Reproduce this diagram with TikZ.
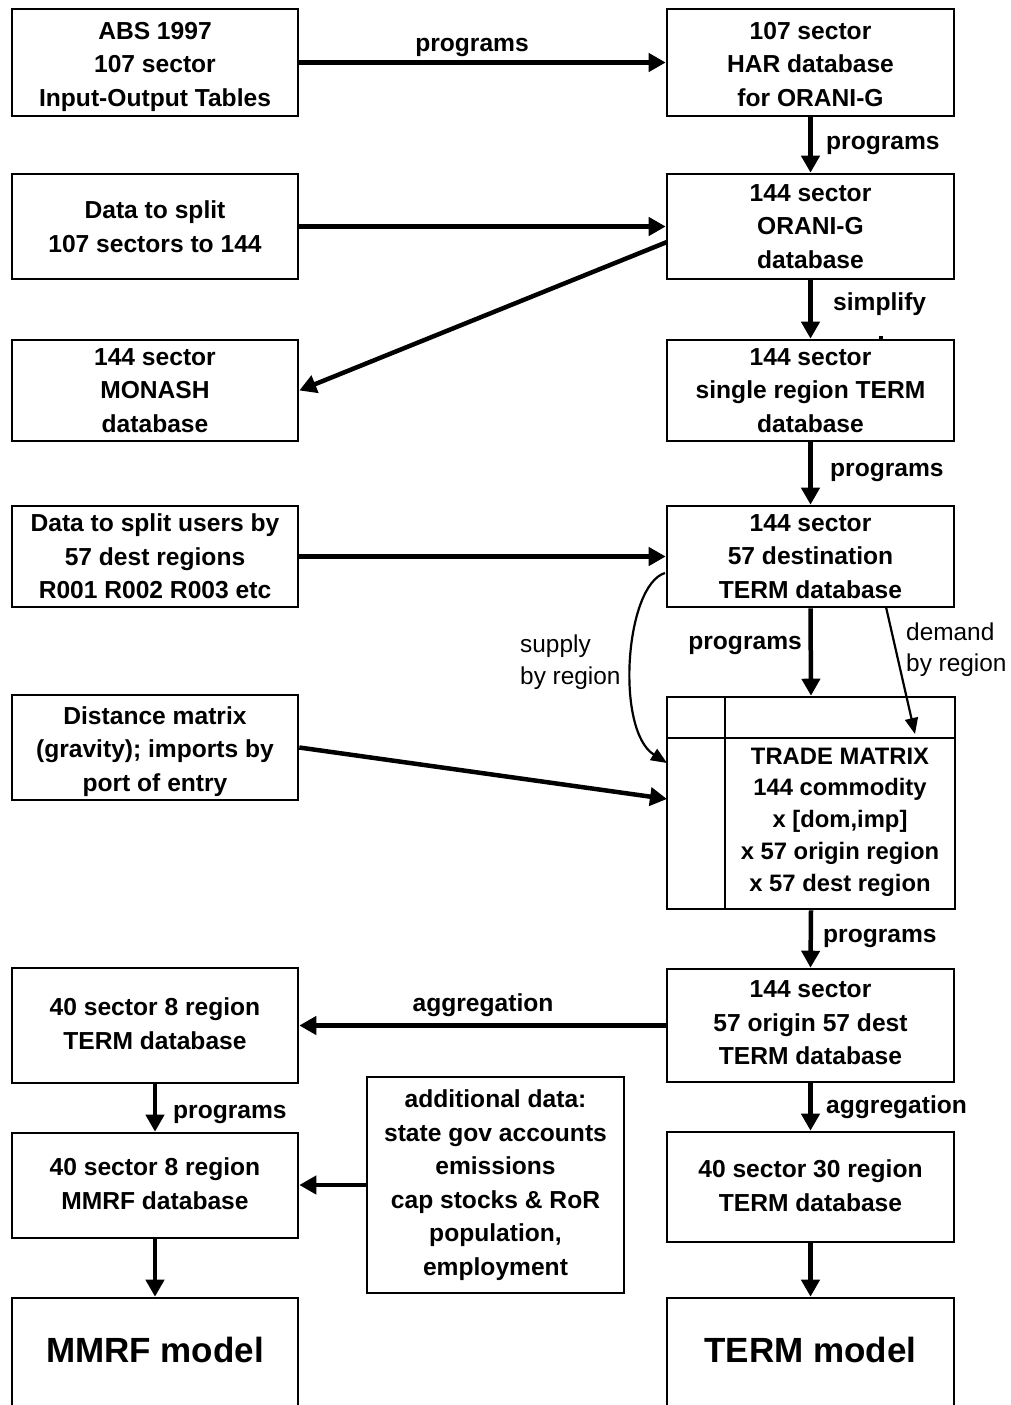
\documentclass[tikz,border=0pt]{standalone}
\usepackage{fontspec}
\setmainfont{Liberation Sans}
\usetikzlibrary{arrows.meta}
\newcommand{\myup}[1]{\rule{0pt}{#1}}
\newcommand{\mydn}[1]{\rule[-#1]{0pt}{#1}}
\begin{document}
\begin{tikzpicture}[x=1pt,y=-1pt,
 box/.style={draw, line width=2.6pt, align=center, inner sep=0pt, font=\bfseries\fontsize{24.6}{33.5}\selectfont, minimum width=286pt},
 flow/.style={line width=4.5pt, -{Triangle[length=17pt,width=18pt]}},
 thinarrow/.style={line width=2.2pt, -{Triangle[length=16pt,width=13pt]}},
 lab/.style={font=\bfseries\fontsize{24.6}{28}\selectfont, inner sep=0pt},
 nlab/.style={font=\fontsize{24.4}{31.5}\selectfont, align=left, inner sep=0pt}]
\useasboundingbox (0,0) rectangle (1010,1405);
\clip (0,0) rectangle (1010,1405);
\fill[white] (0,0) rectangle (1010,1405);

% left column
\node[box, minimum height=107pt] (L1) at (155,62.5) {\myup{25.5pt}ABS 1997\\107 sector\\Input-Output Tables};
\node[box, minimum height=105pt] (L2) at (155,226.5) {Data to split\\107 sectors to 144};
\node[box, minimum height=101pt] (L3) at (155,390.5) {144 sector\\MONASH\\database};
\node[box, minimum height=101pt] (L4) at (155,556.5) {Data to split users by\\57 dest regions\\R001 R002 R003 etc};
\node[box, minimum height=105pt] (L5) at (155,747.5) {\myup{25.5pt}Distance matrix\\(gravity); imports by\\port of entry};
\node[box, minimum height=115pt] (L6) at (155,1025.5) {40 sector 8 region\\TERM database\mydn{4pt}};
\node[box, minimum height=105pt] (L7) at (155,1185.5) {40 sector 8 region\\MMRF database\mydn{4pt}};
\node[box, minimum height=160pt] (L8) at (155,1378) {};
\node[font=\bfseries\fontsize{35}{40}\selectfont, inner sep=0pt] (L8t) at (155,1350) {MMRF model};

% right column
\node[box, minimum width=287pt, minimum height=107pt] (R1) at (810.5,62.5) {\myup{20.5pt}107 sector\\HAR database\\for ORANI-G};
\node[box, minimum width=287pt, minimum height=105pt] (R2) at (810.5,226.5) {144 sector\\ORANI-G\\database};
\node[box, minimum width=287pt, minimum height=101pt] (R3) at (810.5,390.5) {144 sector\\single region TERM\\database};
\node[box, minimum width=287pt, minimum height=101pt] (R4) at (810.5,556.5) {144 sector\\57 destination\\TERM database};
\node[box, minimum width=288pt, minimum height=212pt] (TM) at (811,803) {};
\draw[line width=2.6pt] (725,697) -- (725,909);
\draw[line width=2.6pt] (667,738) -- (955,738);
\node[align=center, inner sep=0pt, font=\bfseries\fontsize{23.8}{31.8}\selectfont] (TMt) at (840,822) {TRADE MATRIX\\144 commodity\\x [dom,imp]\\x 57 origin region\\x 57 dest region};
\node[box, minimum width=287pt, minimum height=113pt] (R6) at (810.5,1025.5) {144 sector\\57 origin 57 dest\\TERM database\mydn{5pt}};
\node[box, minimum width=287pt, minimum height=110pt] (R7) at (810.5,1187) {40 sector 30 region\\TERM database\mydn{3pt}};
\node[box, minimum width=287pt, minimum height=160pt] (R8) at (810.5,1378) {};
\node[font=\bfseries\fontsize{35}{40}\selectfont, inner sep=0pt] (R8t) at (810.5,1350) {TERM model};

% middle box
\node[box, minimum width=257pt, minimum height=216pt] (M) at (495.5,1185) {additional data:\\state gov accounts\\emissions\\cap stocks \& RoR\\population,\\employment};

% coordinates for free connector ends
\coordinate (a4s) at (667,242);
\coordinate (sup1) at (665,573);
\coordinate (sup2) at (667,763);
\coordinate (dem1) at (886,607);
\coordinate (dem2) at (915,734);
\coordinate (tmin) at (667,799);

% connectors
\draw[flow] (L1) -- (R1);
\draw[flow] (R1) -- (R2);
\draw[flow] (L2) -- (R2);
\draw[flow] (a4s) -- (L3.east);
\draw[flow] (R2) -- (R3);
\draw[flow] (R3) -- (R4);
\draw[flow] (L4) -- (R4);
\draw[thinarrow] (sup1) .. controls (625,585) and (615,730) .. (sup2);
\draw[flow] (R4.south) -- (TM.north);
\draw[thinarrow] (dem1) -- (dem2);
\draw[flow] (L5.east) -- (tmin);
\draw[flow] (TM.south) -- (R6.north);
\draw[flow] (R6.west) -- (L6.east);
\draw[flow] (L6) -- (L7);
\draw[flow] (M.west) -- (M.west -| L7.east);
\draw[flow] (L7) -- (L8);
\draw[flow] (R6) -- (R7);
\draw[flow] (R7) -- (R8);

% small mark
\fill (879,336) rectangle (883,338.5);

% labels
\node[lab] (p1) at (472,47) {programs};
\node[lab, anchor=west] (p2) at (826,145) {programs};
\node[lab, anchor=west] (s1) at (833,304) {simplify};
\node[lab, anchor=west] (p3) at (830,472) {programs};
\node[lab, anchor=east] (p4) at (802,645) {programs};
\node[lab, anchor=west] (p5) at (823,938) {programs};
\node[lab] (ag1) at (483,1005) {aggregation};
\node[lab, anchor=west] (p6) at (173,1114) {programs};
\node[lab, anchor=west] (ag2) at (826,1107) {aggregation};
\node[nlab, anchor=west] (sup) at (520,662) {supply\\by region};
\node[nlab, anchor=west] (dem) at (906,649.5) {demand\\by region};
\end{tikzpicture}
\end{document}
